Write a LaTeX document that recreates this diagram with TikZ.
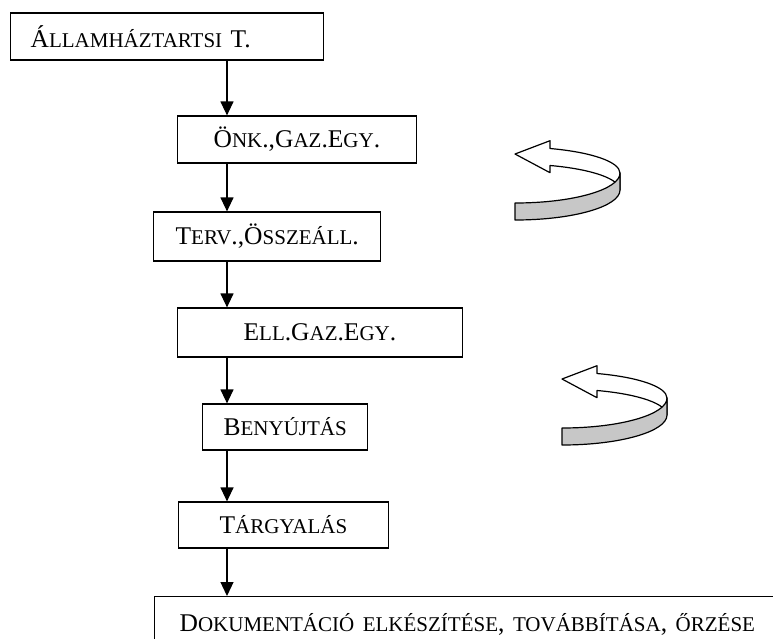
\documentclass[tikz,border=0pt]{standalone}
\usepackage{fontspec}
\setmainfont{Liberation Serif}
\usetikzlibrary{arrows.meta, positioning}
\newcommand{\kis}[1]{{\fontsize{21}{25}\selectfont #1}}

\begin{document}
\begin{tikzpicture}[
    x=1pt, y=-1pt,
    lepes/.style={rectangle, draw=black, line width=1.2pt, minimum height=47pt, inner ysep=2pt, font=\fontsize{25.5}{30}\selectfont, anchor=west},
    nyil/.style={-{Triangle[width=13pt, length=14pt]}, line width=1.2pt},
    curlback/.style={draw=black, fill=white, line width=1.2pt, line join=round},
    curlfront/.style={draw=black, fill=black!22, line width=1.2pt, line join=round},
    curl/.pic={
        \begin{scope}[y=1pt]
        % hatso fel, nyilheggyel
        \draw[curlback] (35,24.5) arc[start angle=70.5, end angle=0, x radius=105, y radius=26] -- (105,-17)
            arc[start angle=0, end angle=70.5, x radius=105, y radius=26] -- (35,0.3) -- (0,19) -- (35,32.3) -- cycle;
        % elso fel, szurke
        \draw[curlfront] (105,0) arc[start angle=0, end angle=-90, x radius=105, y radius=30] -- (0,-47)
            arc[start angle=-90, end angle=0, x radius=105, y radius=30] -- cycle;
        \end{scope}
    }
]
    \clip (0,0) rectangle (773,638);

    % Lepesek
    \node (allamh) [lepes, text width=273pt, align=left, inner xsep=20pt] at (10,36.5) {Á\kis{LLAMHÁZTARTSI} T.};
    \node (onk) [lepes, inner xsep=36pt] at (177,139.5) {Ö\kis{NK}.,G\kis{AZ}.E\kis{GY}.};
    \node (terv) [lepes, inner xsep=22pt, minimum height=49pt] at (153,236.5) {T\kis{ERV}.,Ö\kis{SSZEÁLL}.};
    \node (ellgaz) [lepes, inner xsep=66pt, minimum height=49pt] at (177,332.5) {E\kis{LL}.G\kis{AZ}.E\kis{GY}.};
    \node (benyujt) [lepes, inner xsep=21pt, minimum height=46pt] at (202,427) {B\kis{ENYÚJTÁS}};
    \node (targy) [lepes, inner xsep=41pt, minimum height=46pt] at (178,525) {T\kis{ÁRGYALÁS}};
    \node (dokum) [lepes, anchor=north west, text width=650pt, align=left, inner xsep=25pt, minimum height=56pt] at (154,596)
        {D\kis{OKUMENTÁCIÓ ELKÉSZÍTÉSE}, \kis{TOVÁBBÍTÁSA}, \kis{ŐRZÉSE}};

    % Nyilak
    \coordinate (tengely) at (227,0);
    \draw [nyil] (allamh.south -| tengely) -- (onk.north -| tengely);
    \draw [nyil] (onk.south -| tengely) -- (terv.north -| tengely);
    \draw [nyil] (terv.south -| tengely) -- (ellgaz.north -| tengely);
    \draw [nyil] (ellgaz.south -| tengely) -- (benyujt.north -| tengely);
    \draw [nyil] (benyujt.south -| tengely) -- (targy.north -| tengely);
    \draw [nyil] (targy.south -| tengely) -- (dokum.north -| tengely);

    % Visszacsatolo ivek
    \pic at (515,173) {curl};
    \pic at (562,398) {curl};

\end{tikzpicture}
\end{document}
